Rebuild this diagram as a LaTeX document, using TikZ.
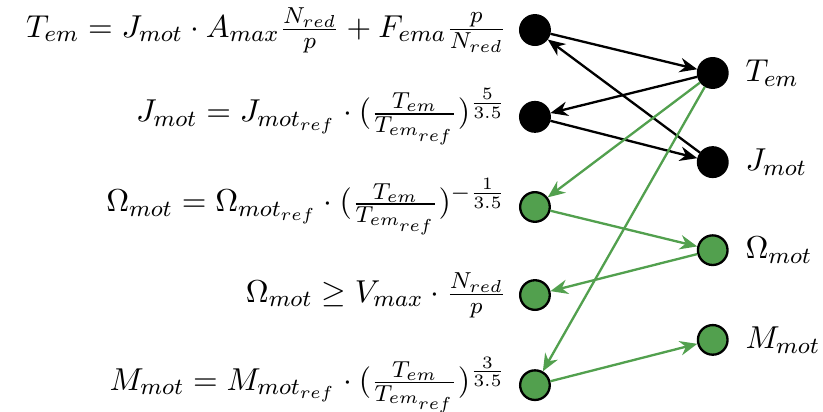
\documentclass[tikz,border=0pt]{standalone}
\usepackage{amsmath,amssymb}
\usepackage{xcolor}
\usetikzlibrary{positioning, arrows.meta}
\definecolor{depgreen}{RGB}{82,160,78}
\tikzset{
    blackvar/.style={circle, draw=black, fill=black, thick, minimum size=0.36cm, inner sep=0pt},
    greenvar/.style={circle, draw=black, fill=depgreen, thick, minimum size=0.36cm, inner sep=0pt},
    blackedge/.style={-{Stealth[length=6pt,width=5pt]}, thick, black},
    greenedge/.style={-{Stealth[length=6pt,width=5pt]}, thick, depgreen},
    eqlabel/.style={font=\fontsize{11.4}{13}\selectfont}
}

\begin{document}
\begin{tikzpicture}

    \useasboundingbox (0,0) rectangle (10,5);

    % --- Equation nodes (left column) ---
    \node[blackvar] (e1) at (6.50,4.635) {};
    \node[blackvar] (e2) at (6.50,3.58) {};
    \node[greenvar] (e3) at (6.50,2.485) {};
    \node[greenvar] (e4) at (6.50,1.415) {};
    \node[greenvar] (e5) at (6.50,0.32) {};

    % --- Variable nodes (right column) ---
    \node[blackvar] (tem) at (8.66,4.113) {};
    \node[blackvar] (jmot) at (8.66,3.03) {};
    \node[greenvar] (omot) at (8.66,1.96) {};
    \node[greenvar] (mmot) at (8.66,0.87) {};

    % --- Equations ---
    \node[eqlabel, left=0.03cm of e1] (eq1) {$T_{em} = J_{mot}\cdot A_{max}\frac{N_{red}}{p} + F_{ema}\frac{p}{N_{red}}$};
    \node[eqlabel, left=0.03cm of e2] (eq2) {$J_{mot} = J_{mot_{ref}}\cdot(\frac{T_{em}}{T_{em_{ref}}})^{\frac{5}{3.5}}$};
    \node[eqlabel, left=0.03cm of e3] (eq3) {$\Omega_{mot} = \Omega_{mot_{ref}}\cdot(\frac{T_{em}}{T_{em_{ref}}})^{-\frac{1}{3.5}}$};
    \node[eqlabel, left=0.03cm of e4] (eq4) {$\Omega_{mot} \geq V_{max}\cdot\frac{N_{red}}{p}$};
    \node[eqlabel, left=0.03cm of e5] (eq5) {$M_{mot} = M_{mot_{ref}}\cdot(\frac{T_{em}}{T_{em_{ref}}})^{\frac{3}{3.5}}$};

    % --- Variables ---
    \node[eqlabel, right=0.08cm of tem] (ltem) {$T_{em}$};
    \node[eqlabel, right=0.08cm of jmot] (ljmot) {$J_{mot}$};
    \node[eqlabel, right=0.08cm of omot] (lomot) {$\Omega_{mot}$};
    \node[eqlabel, right=0.08cm of mmot] (lmmot) {$M_{mot}$};

    % --- Black connections ---
    \draw[blackedge] (e1) -- (tem);
    \draw[blackedge] (jmot) -- (e1);
    \draw[blackedge] (tem) -- (e2);
    \draw[blackedge] (e2) -- (jmot);

    % --- Green connections ---
    \draw[greenedge] (tem) -- (e3);
    \draw[greenedge] (tem) -- (e5);
    \draw[greenedge] (e3) -- (omot);
    \draw[greenedge] (omot) -- (e4);
    \draw[greenedge] (e5) -- (mmot);

\end{tikzpicture}
\end{document}
